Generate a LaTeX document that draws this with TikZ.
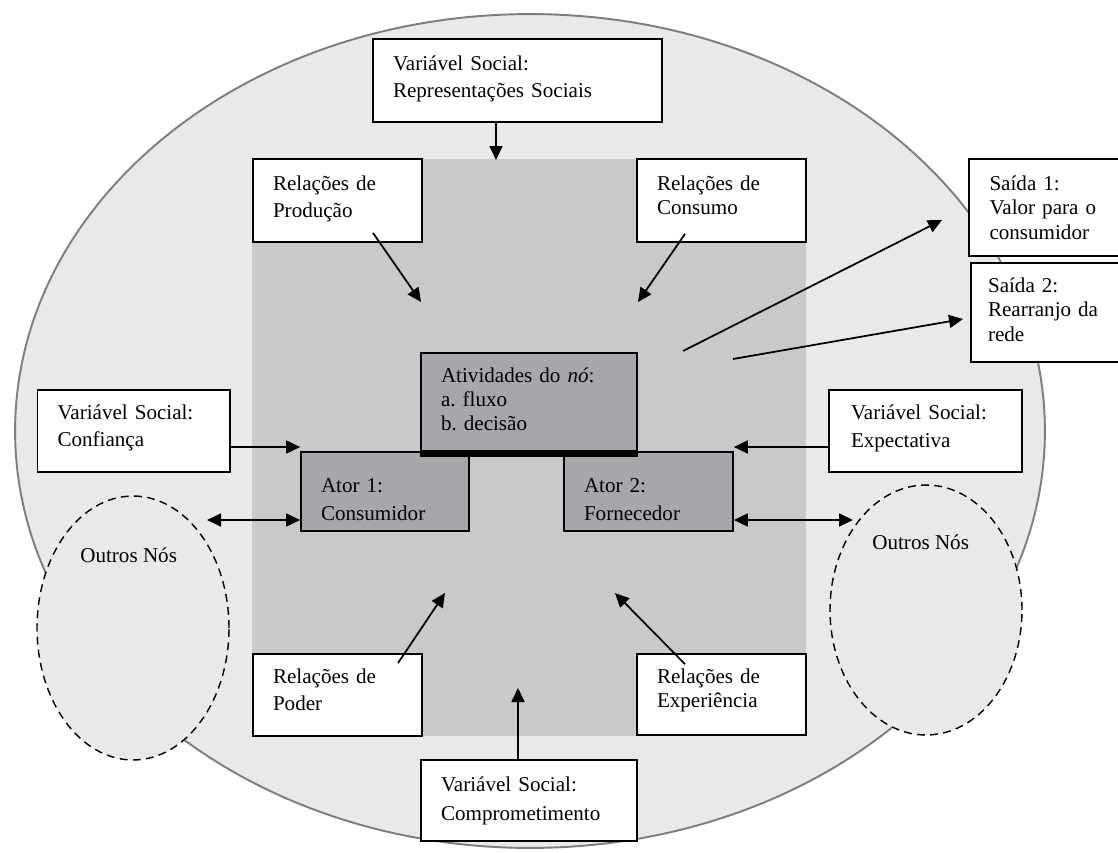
\documentclass[tikz,border=0pt]{standalone}
\usepackage{fontspec}
\setmainfont{Liberation Serif}
\usetikzlibrary{arrows.meta,shapes.geometric}
\definecolor{outerfill}{HTML}{E9E9EB}
\definecolor{rectfill}{HTML}{C8C9CB}
\definecolor{nodefill}{HTML}{A6A7AA}
\definecolor{rimgray}{HTML}{7E7E7E}
\frenchspacing
\begin{document}
\begin{tikzpicture}[x=0.02cm,y=-0.02cm,
  box/.style={draw=black, line width=1pt, fill=white, inner sep=0pt, align=left, font=\fontsize{12}{15.9}\selectfont},
  dbox/.style={box, fill=nodefill},
  tight/.style={font=\fontsize{12}{14.2}\selectfont},
  arr/.style={line width=1pt, -{Triangle[length=0.28cm,width=0.26cm]}},
  dbl/.style={line width=1pt, {Triangle[length=0.28cm,width=0.26cm]}-{Triangle[length=0.28cm,width=0.26cm]}},
  other/.style={ellipse, draw=black, dash pattern=on 4.5pt off 3pt, line width=0.8pt, fill=outerfill, inner sep=0pt},
  lbl/.style={anchor=base west, inner sep=0pt, font=\fontsize{12}{16}\selectfont}
]
\useasboundingbox (0,0) rectangle (1118,852);
% outer network ellipse
\fill[outerfill] (530,431) ellipse [x radius=10.3cm, y radius=8.34cm];
\draw[rimgray, line width=1.1pt] (530,431) ellipse [x radius=10.3cm, y radius=8.34cm];
% central grey area
\fill[rectfill] (252,159) rectangle (806,736);
% other nodes
\node[other, minimum width=3.84cm, minimum height=5.28cm] (on1) at (133,628) {};
\node[other, minimum width=3.84cm, minimum height=5.0cm] (on2) at (926,610) {};
\node[lbl] (on1t) at (80,562) {Outros Nós};
\node[lbl] (on2t) at (872,549) {Outros Nós};
% white boxes
\node[box, minimum width=5.78cm, text height=0.62cm, text depth=1.04cm, text width=4.98cm] (rep) at (517.5,80.5) {Variável Social:\\Representações Sociais};
\node[box, minimum width=3.38cm, text height=0.62cm, text depth=1.04cm, text width=2.58cm] (prod) at (337.5,200.5) {Relações de\\Produção};
\node[box, tight, minimum width=3.38cm, text height=0.62cm, text depth=1.04cm, text width=2.58cm] (cons) at (721.5,200.5) {Relações de\\Consumo};
\node[box, tight, minimum width=3.02cm, text height=0.62cm, text depth=1.32cm, text width=2.2cm] (s1) at (1044.5,207.5) {Saída 1:\\Valor para o\\consumidor};
\node[box, tight, minimum width=2.98cm, text height=0.58cm, text depth=1.40cm, text width=2.3cm] (s2) at (1045.5,312.5) {Saída 2:\\Rearranjo da\\rede};
\node[box, minimum width=3.85cm, text height=0.58cm, text depth=1.06cm, text width=3.05cm] (conf) at (133.75,431) {Variável Social:\\Confiança};
\node[box, font=\fontsize{12}{16.5}\selectfont, minimum width=3.86cm, text height=0.58cm, text depth=1.06cm, text width=2.98cm] (expe) at (925.5,431) {Variável Social:\\Expectativa};
\node[box, minimum width=3.38cm, text height=0.58cm, text depth=1.06cm, text width=2.58cm] (poder) at (337.5,695) {Relações de\\Poder};
\node[box, tight, minimum width=3.38cm, text height=0.58cm, text depth=1.04cm, text width=2.58cm] (expr) at (721.5,694.5) {Relações de\\Experiência};
\node[box, font=\fontsize{12}{16.5}\selectfont, minimum width=4.32cm, text height=0.62cm, text depth=1.0cm, text width=3.52cm] (comp) at (529,800.5) {Variável Social:\\Comprometimento};
% dark boxes
\node[dbox, font=\fontsize{12}{16.5}\selectfont, minimum width=3.36cm, text height=0.80cm, text depth=0.78cm, text width=2.56cm] (a1) at (385,491.5) {Ator 1:\\Consumidor};
\node[dbox, font=\fontsize{12}{16.5}\selectfont, minimum width=3.38cm, text height=0.80cm, text depth=0.78cm, text width=2.58cm] (a2) at (648.5,491.5) {Ator 2:\\Fornecedor};
\node[dbox, font=\fontsize{12}{13.9}\selectfont, minimum width=4.32cm, text height=0.58cm, text depth=1.38cm, text width=3.52cm] (act) at (529,402) {Atividades do \textit{nó}:\\a. fluxo\\b. decisão};
\draw[line width=0.12cm] ([yshift=-0.04cm]act.south west) -- ([yshift=-0.04cm]act.south east);
% connectors
\coordinate (tRep) at (496,160);
\draw[arr] (rep.south -| tRep) -- (tRep);
\coordinate (tProd) at (421,302);
\draw[arr] ([xshift=0.71cm,yshift=0.2cm]prod.south) -- (tProd);
\coordinate (tCons) at (638,302);
\draw[arr] ([xshift=-0.73cm,yshift=0.18cm]cons.south) -- (tCons);
\coordinate (sS1) at (683,351);
\coordinate (tS1) at (942,220);
\draw[arr] (sS1) -- (tS1);
\coordinate (sS2) at (733,359);
\coordinate (tS2) at (963,319);
\draw[arr] (sS2) -- (tS2);
\draw[arr] ([yshift=-0.32cm]conf.east) -- ([yshift=-0.32cm]conf.east -| a1.west);
\draw[arr] ([yshift=-0.32cm]expe.west) -- ([yshift=-0.32cm]expe.west -| a2.east);
\coordinate (eL) at (207,520);
\draw[dbl] (eL) -- (a1.west |- eL);
\coordinate (eR) at (853,520);
\draw[dbl] (a2.east |- eR) -- (eR);
\coordinate (tPod) at (445,593);
\draw[arr] ([xshift=1.21cm,yshift=-0.2cm]poder.north) -- (tPod);
\coordinate (tComp) at (518,688);
\draw[arr] (comp.north -| tComp) -- (tComp);
\coordinate (tExp) at (615,593);
\draw[arr] ([xshift=-0.73cm,yshift=-0.22cm]expr.north) -- (tExp);
\end{tikzpicture}
\end{document}
